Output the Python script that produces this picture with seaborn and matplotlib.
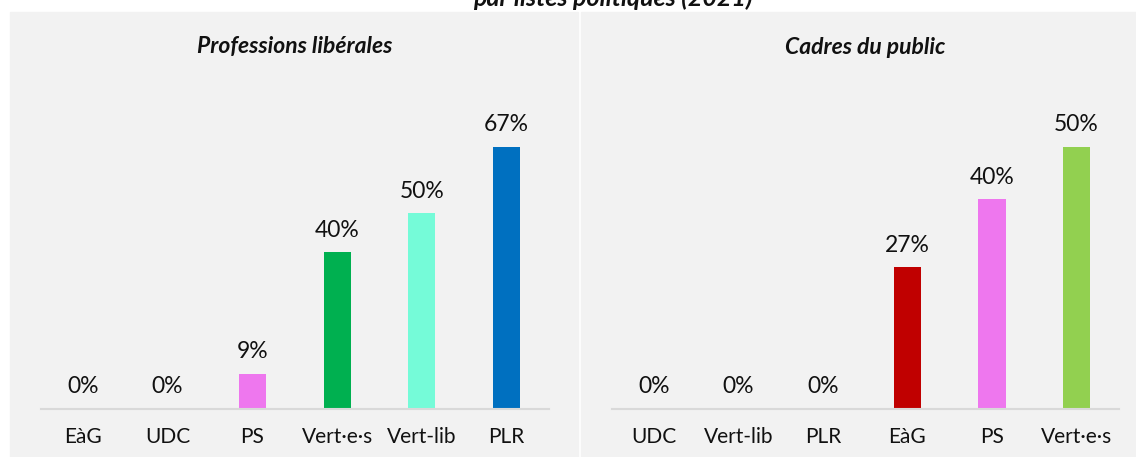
import matplotlib
matplotlib.use("Agg")
import matplotlib.pyplot as plt
import matplotlib.patches as mpatches
import pandas as pd
import seaborn as sns

# Data
left_title = "Professions libérales"
left_parties = ["EàG", "UDC", "PS", "Vert·e·s", "Vert-lib", "PLR"]
left_values = [0, 0, 9, 40, 50, 67]
left_colors = ["#c00000", "#1f4e79", "#ee77ee", "#00b050", "#75fbd8", "#0070c0"]

right_title = "Cadres du public"
right_parties = ["UDC", "Vert-lib", "PLR", "EàG", "PS", "Vert·e·s"]
right_values = [0, 0, 0, 27, 40, 50]
right_colors = ["#1f4e79", "#75fbd8", "#0070c0", "#c00000", "#ee77ee", "#92d050"]

main_title = "par listes politiques (2021)"

sns.set_theme(style="white")
plt.rcParams["font.family"] = ["Lato", "DejaVu Sans"]

W, H = 1136, 457
fig = plt.figure(figsize=(W / 100, H / 100), dpi=100)
fig.patch.set_facecolor("white")

# Grey panel backgrounds (behind the axes)
panel_bg = "#f2f2f2"
fig.patches.append(mpatches.Rectangle((10 / W, 0), 568 / W, (H - 12) / H,
                                      transform=fig.transFigure, color=panel_bg, zorder=-1))
fig.patches.append(mpatches.Rectangle((581 / W, 0), (W - 581) / W, (H - 12) / H,
                                      transform=fig.transFigure, color=panel_bg, zorder=-1))

# Axes placement (pixels -> figure fraction)
ax_bottom_px = H - 408.7
ax_height_px = 348.7
max_bar_px = 261.7
ax_left = fig.add_axes([40.5 / W, ax_bottom_px / H, 508.5 / W, ax_height_px / H])
ax_right = fig.add_axes([611.75 / W, ax_bottom_px / H, 507 / W, ax_height_px / H])


def draw_panel(ax, title, parties, values, colors):
    df = pd.DataFrame({"party": parties, "value": values})
    palette = dict(zip(parties, colors))
    sns.barplot(data=df, x="party", y="value", hue="party", palette=palette,
                order=parties, width=0.32, saturation=1, legend=False,
                linewidth=0, edgecolor="none", ax=ax)
    for container in ax.containers:
        ax.bar_label(container, labels=[f"{v:.0f}%" for v in container.datavalues],
                     padding=8.5, fontsize=16.5, color="#111111")
    ax.set_ylim(0, max(values) * ax_height_px / max_bar_px)
    ax.set_xlim(-0.5, len(parties) - 0.5)
    ax.patch.set_alpha(0)
    ax.set_xlabel("")
    ax.set_ylabel("")
    ax.set_yticks([])
    ax.tick_params(axis="x", length=0, pad=13, labelsize=15, labelcolor="#111111")
    for side in ["top", "left", "right"]:
        ax.spines[side].set_visible(False)
    ax.spines["bottom"].set_color("#d9d9d9")
    ax.spines["bottom"].set_linewidth(1.5)
    ax.set_title(title, fontsize=16.5, fontweight="bold", fontstyle="italic",
                 y=1 + 13 / ax_height_px, pad=0, va="center", color="#111111")


draw_panel(ax_left, left_title, left_parties, left_values, left_colors)
draw_panel(ax_right, right_title, right_parties, right_values, right_colors)

# Main title, cut off at the top like the reference
fig.text(613 / W, 1 - 6 / H, main_title, ha="center", va="baseline",
         fontsize=18, fontweight="bold", fontstyle="italic", color="#111111")

plt.savefig("out.png", dpi=100)
